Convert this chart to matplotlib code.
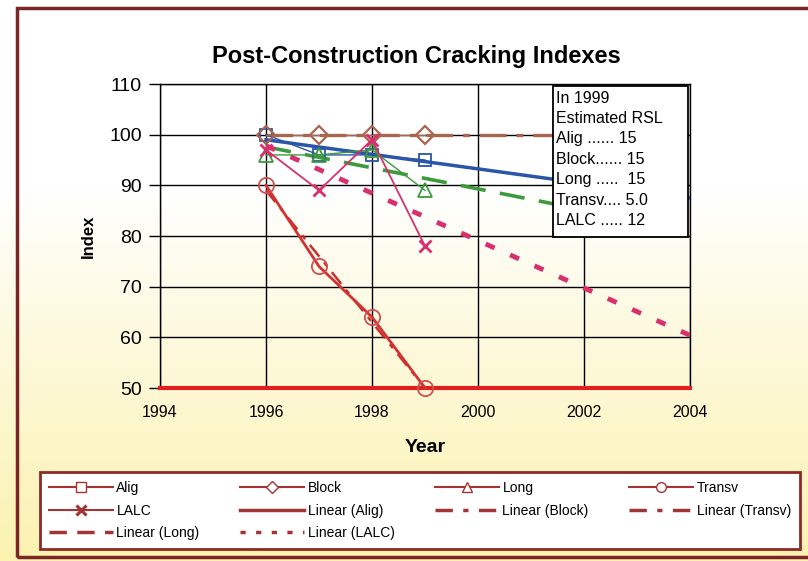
import matplotlib.pyplot as plt
from matplotlib.lines import Line2D
from matplotlib.patches import Rectangle
from matplotlib.colors import LinearSegmentedColormap
import numpy as np

years = [1996, 1997, 1998, 1999]
alig = [100, 96, 96, 95]
block = [100, 100, 100, 100]
long_ = [96, 96, 97, 89]
transv = [90, 74, 64, 50]
lalc = [97, 89, 99, 78]

# trend lines (start / end)
trend_years = [1996, 2004]
lin_alig = [99.0, 87.5]
lin_block = [100, 100]
lin_long = [97.6, 81.0]
lin_lalc = [97.8, 60.4]
lin_transv_years = [1996, 1999]
lin_transv = [89, 50]
floor_years = [1994, 2004]
floor_vals = [50, 50]

rsl_lines = ["In 1999", "Estimated RSL", "Alig ...... 15", "Block...... 15",
             "Long .....  15", "Transv.... 5.0", "LALC ..... 12"]

plt.rcParams['font.family'] = ['Liberation Sans', 'DejaVu Sans']

fig = plt.figure(figsize=(8.08, 5.61), dpi=100)

# background gradient white -> pale yellow
bg = fig.add_axes([0, 0, 1, 1], zorder=-10)
cmap = LinearSegmentedColormap.from_list('bg', ['#fbf2b0', '#fdf8d6', '#ffffff', '#ffffff'])
grad = np.linspace(0, 1, 256).reshape(-1, 1)
bg.imshow(grad, aspect='auto', cmap=cmap, origin='lower', extent=[0, 1, 0, 1])
bg.set_axis_off()
fig.patches.append(Rectangle((17 / 808, 4 / 561), 1.0, 549 / 561, transform=fig.transFigure,
                             fill=False, ec='#7a2626', lw=2.5, zorder=5))

ax = fig.add_axes([160 / 808, 1 - 388 / 561, 530 / 808, 304 / 561])
ax.set_facecolor('none')

c_alig = '#2a56a8'
c_block = '#a8664e'
c_long = '#3c9a3c'
c_transv = '#d23232'
c_lalc = '#d8306e'

ax.plot(floor_years, floor_vals, color='#e02020', lw=3, zorder=3, clip_on=False)
ax.plot(trend_years, lin_block, color=c_block, lw=2.4, dashes=(8, 3, 2, 3), zorder=3)
ax.plot(trend_years, lin_alig, color=c_alig, lw=2.5, zorder=3)
ax.plot(trend_years, lin_long, color=c_long, lw=2.6, dashes=(7, 4), zorder=3)
ax.plot(trend_years, lin_lalc, color=c_lalc, lw=3.5, dashes=(2, 3.5), zorder=3)
ax.plot(lin_transv_years, lin_transv, color='#c83030', lw=1.8, dashes=(6, 3, 2, 3), zorder=3)

ax.plot(years, alig, color=c_alig, lw=1, marker='s', ms=9, mfc='none', mec=c_alig, mew=1.3, zorder=4)
ax.plot(years, block, color=c_block, lw=1, marker='D', ms=9, mfc='none', mec=c_block, mew=1.6, zorder=4)
ax.plot(years, long_, color=c_long, lw=1, marker='^', ms=10, mfc='none', mec=c_long, mew=1.3, zorder=4)
ax.plot(years, transv, color=c_transv, lw=2, marker='o', ms=11, mfc='none', mec='#d05050', mew=1.3,
        zorder=4, clip_on=False)
ax.plot(years, lalc, color=c_lalc, lw=1.3, marker='x', ms=9, mec=c_lalc, mew=2, zorder=4)

ax.set_xlim(1994, 2004)
ax.set_ylim(50, 110)
ax.set_xticks(range(1994, 2005, 2))
ax.set_yticks(range(50, 111, 10))
ax.grid(True, color='black', lw=1)
ax.set_axisbelow(True)
for s in ax.spines.values():
    s.set_color('black')
    s.set_linewidth(1)
ax.tick_params(axis='y', labelsize=14, length=8, width=1, pad=5)
ax.tick_params(axis='x', labelsize=11.5, length=0, pad=12)
ax.set_xlabel('Year', fontsize=14, fontweight='bold', labelpad=14)
ax.set_ylabel('Index', fontsize=12, fontweight='bold', labelpad=10)

# RSL note box covering the end of the trend lines
ax.add_patch(Rectangle((0.7415, 0.4967), 0.2547, 0.4967, transform=ax.transAxes,
                       fc='white', ec='black', lw=1.3, zorder=6))
ax.text(0.748, 0.978, "\n".join(rsl_lines), transform=ax.transAxes, va='top', ha='left',
        fontsize=11.5, linespacing=1.45, zorder=7)

fig.text(0.515, 0.9, 'Post-Construction Cracking Indexes', ha='center', va='center',
         fontsize=17, fontweight='bold')

# legend proxies, all drawn dark red as in the picture
lc = '#a33434'
h = {
    'Alig': Line2D([], [], color=lc, marker='s', ms=7, mfc='white', mec=lc),
    'Block': Line2D([], [], color=lc, marker='D', ms=6, mfc='white', mec=lc),
    'Long': Line2D([], [], color=lc, marker='^', ms=7, mfc='white', mec=lc),
    'Transv': Line2D([], [], color=lc, marker='o', ms=7, mfc='white', mec=lc),
    'LALC': Line2D([], [], color=lc, marker='x', ms=7, mew=2.2),
    'Linear (Alig)': Line2D([], [], color=lc, lw=2.5),
    'Linear (Block)': Line2D([], [], color=lc, lw=2.5, dashes=(5, 3, 1.5, 3)),
    'Linear (Transv)': Line2D([], [], color=lc, lw=2.5, dashes=(5, 3, 1.5, 3)),
    'Linear (Long)': Line2D([], [], color=lc, lw=2.5, dashes=(5, 3)),
    'Linear (LALC)': Line2D([], [], color=lc, lw=2.5, dashes=(1.5, 3)),
}
order = ['Alig', 'LALC', 'Linear (Long)', 'Block', 'Linear (Alig)', 'Linear (LALC)',
         'Long', 'Linear (Block)', 'Transv', 'Linear (Transv)']
leg = fig.legend([h[k] for k in order], order, ncol=4, loc='upper left',
                 bbox_to_anchor=(40 / 808, 1 - 472 / 561, 760 / 808, 0), mode='expand',
                 prop={'family': ['Liberation Sans Narrow', 'Liberation Sans'], 'size': 10},
                 handlelength=4.6, frameon=True, fancybox=False, borderpad=0.65,
                 borderaxespad=0, labelspacing=0.62, handletextpad=0.25)
leg.get_frame().set_edgecolor('#8b2a2a')
leg.get_frame().set_linewidth(2)
leg.get_frame().set_facecolor('white')
leg.get_frame().set_alpha(1)

fig.savefig('out.png', dpi=100)
